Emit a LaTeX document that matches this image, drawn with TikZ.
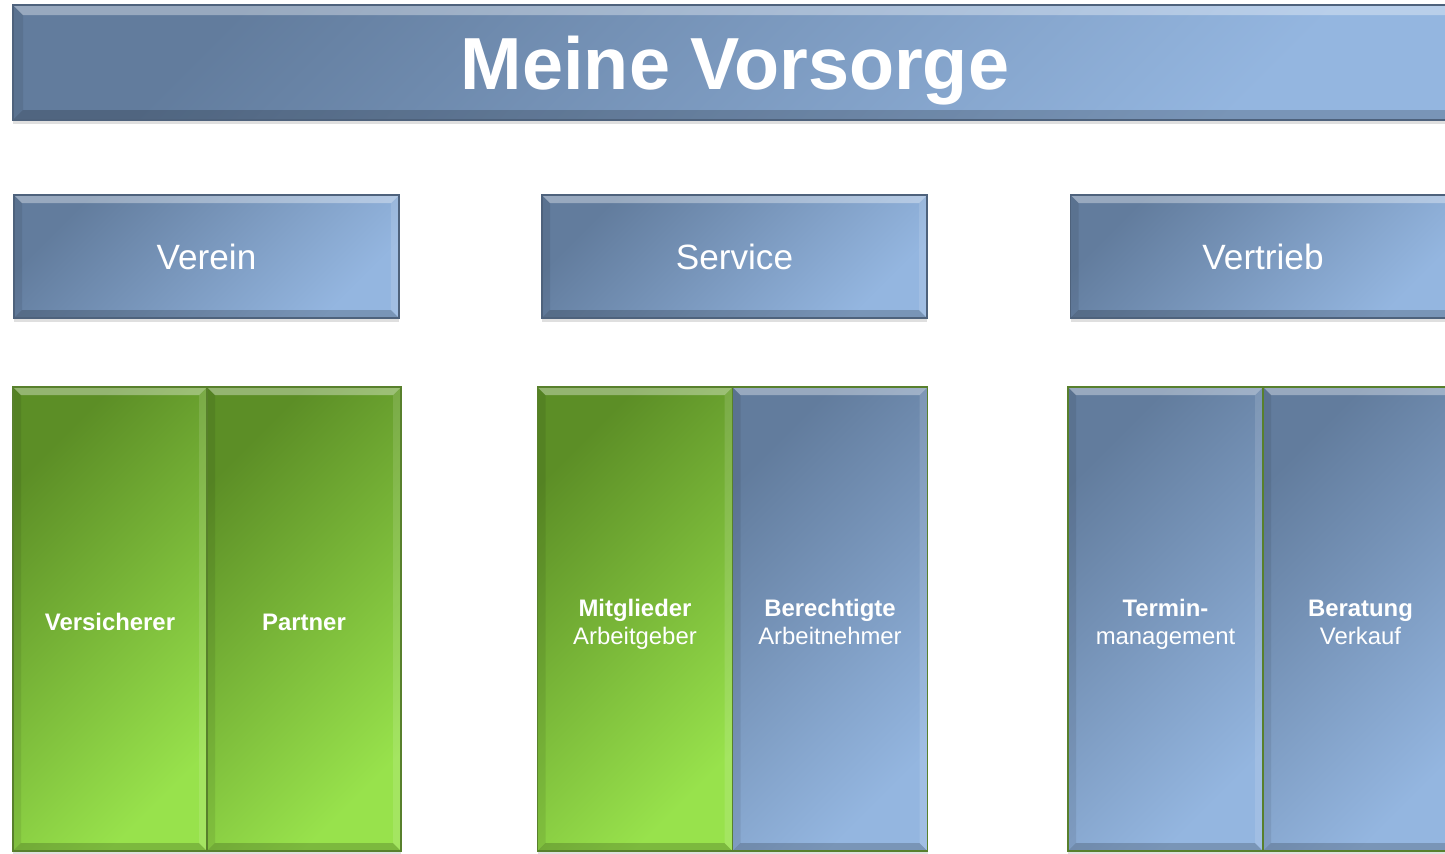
\documentclass[tikz,border=0pt]{standalone}
\usepackage{fontspec}
\setmainfont{Liberation Sans}
\usetikzlibrary{positioning, shadows, calc}
\definecolor{blueDark}{RGB}{98,124,157}
\definecolor{blueLight}{RGB}{148,182,224}
\definecolor{blueLine}{RGB}{78,98,124}
\definecolor{greenDark}{RGB}{92,142,38}
\definecolor{greenLight}{RGB}{152,226,76}
\definecolor{greenLine}{RGB}{88,128,44}
\def\px{0.02cm}
% Saeulentext etwas unter die Mitte setzen
\newcommand{\colbox}[1]{\raisebox{0pt}[\dimexpr\height+7pt\relax]{\begin{tabular}{@{}c@{}}#1\end{tabular}}}

\tikzset{
    bevel/.style={path picture={
        \path (path picture bounding box.north west) coordinate (nw)
              (path picture bounding box.north east) coordinate (ne)
              (path picture bounding box.south west) coordinate (sw)
              (path picture bounding box.south east) coordinate (se);
        \fill[white, opacity=.35] (nw) -- (ne) -- ([shift={(-#1,#1)}]ne) -- ([shift={(#1,#1)}]nw) -- cycle;
        \fill[black, opacity=.08] (nw) -- ([shift={(#1,#1)}]nw) -- ([shift={(#1,-#1)}]sw) -- (sw) -- cycle;
        \fill[white, opacity=.12] (ne) -- ([shift={(-#1,#1)}]ne) -- ([shift={(-#1,-#1)}]se) -- (se) -- cycle;
        \fill[black, opacity=.18] (sw) -- ([shift={(#1,-#1)}]sw) -- ([shift={(-#1,-#1)}]se) -- (se) -- cycle;
    }},
    bevel/.default=8,
    box/.style={draw=blueLine, line width=0.6pt, text=white,
        top color=blueDark, bottom color=blueLight, shading angle=45,
        drop shadow={shadow xshift=0pt, shadow yshift=-2pt, opacity=.25},
        inner sep=0pt, outer sep=0pt, bevel},
    titlebox/.style={box, minimum width=1444*\px, minimum height=115*\px,
        font=\fontsize{42}{48}\selectfont\bfseries, text depth=0pt, bevel=10},
    headbox/.style={box, minimum width=385*\px, minimum height=123*\px,
        font=\fontsize{20}{24}\selectfont},
    col/.style={box, minimum width=195*\px, minimum height=464*\px,
        font=\fontsize{13.6}{16}\selectfont},
    greencol/.style={col, draw=greenLine, top color=greenDark, bottom color=greenLight, shading angle=45},
    bluecol/.style={col, draw=greenLine},
}

\begin{document}
\begin{tikzpicture}[x=\px, y=-\px]
    \useasboundingbox (0,0) rectangle (1445,853);
    \clip (0,0) rectangle (1445,853);

    % Kopfzeile
    \node[titlebox] (title) at (735,62.5) {Meine Vorsorge};

    % Bereiche
    \node[headbox] (verein) at (206.5,256.5) {Verein};
    \node[headbox] (service) at (734.5,256.5) {Service};
    \node[headbox] (vertrieb) at (1263,256.5) {Vertrieb};

    % Saeulen
    \node[greencol, minimum width=194*\px] (versicherer) at (110,619) {\colbox{\textbf{Versicherer}}};
    \node[greencol, minimum width=194*\px, right=0pt of versicherer] (partner) {\colbox{\textbf{Partner}}};

    \node[greencol] (mitglieder) at (635,619) {\colbox{\textbf{Mitglieder}\\Arbeitgeber}};
    \node[bluecol, right=0pt of mitglieder] (berechtigte) {\colbox{\textbf{Berechtigte}\\Arbeitnehmer}};

    \node[bluecol] (termin) at (1165.5,619) {\colbox{\textbf{Termin-}\\management}};
    \node[bluecol, right=0pt of termin] (beratung) {\colbox{\textbf{Beratung}\\Verkauf}};
\end{tikzpicture}
\end{document}
